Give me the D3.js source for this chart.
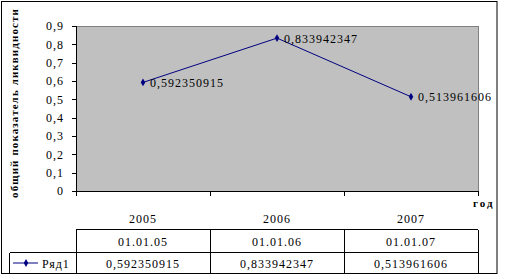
<!DOCTYPE html>
<html><head><meta charset="utf-8">
<script src="https://cdn.jsdelivr.net/npm/d3@7"></script>
<style>
html,body{margin:0;padding:0;background:#fff;}
svg text{font-family:"Liberation Serif","Times New Roman",serif;}
</style></head>
<body><svg id="c" width="505" height="279"></svg>
<script>
const categories = ["2005", "2006", "2007"];
const dates = ["01.01.05", "01.01.06", "01.01.07"];
const values = [0.592350915, 0.833942347, 0.513961606];
const labels = ["0,592350915", "0,833942347", "0,513961606"];
const yTicks = [0, 0.1, 0.2, 0.3, 0.4, 0.5, 0.6, 0.7, 0.8, 0.9];
const seriesName = "Ряд1";
const yTitle = "общий показатель ликвидности";
const xTitle = "год";

const svg = d3.select("#c");
const L = 76, R = 478, T = 26, B = 191;
const x = d3.scaleBand().domain(categories).range([L, R]);
const y = d3.scaleLinear().domain([0, 0.9]).range([B, T]);
const fmt = d => d === 0 ? "0" : d3.format(".1f")(d).replace(".", ",");

// outer frame
svg.append("rect").attr("x", 1.5).attr("y", 1.5).attr("width", 495.5).attr("height", 272)
  .attr("fill", "#fff").attr("stroke", "#000").attr("stroke-width", 1);

// plot area
svg.append("rect").attr("x", L).attr("y", T).attr("width", R - L).attr("height", B - T)
  .attr("fill", "#c0c0c0").attr("stroke", "#808080").attr("stroke-width", 1)
  .attr("shape-rendering", "crispEdges");

// y axis
const yAxis = svg.append("g").attr("transform", `translate(${L},0)`)
  .call(d3.axisLeft(y).tickValues(yTicks).tickFormat(fmt).tickSize(4).tickPadding(8));
yAxis.selectAll("path,line").attr("stroke", "#000").attr("shape-rendering", "crispEdges");
yAxis.selectAll("text").attr("font-size", 12).attr("letter-spacing", "1px")
  .style("font-family", "'Liberation Serif',serif").attr("fill", "#000");

// x axis with ticks at category boundaries
const xAxisG = svg.append("g").attr("transform", `translate(0,${B})`);
xAxisG.append("line").attr("x1", L).attr("x2", R).attr("y1", 0).attr("y2", 0)
  .attr("stroke", "#000").attr("shape-rendering", "crispEdges");
const bounds = categories.map(c => x(c)).concat([x(categories[categories.length - 1]) + x.bandwidth()]);
xAxisG.selectAll("line.tk").data(bounds).join("line").attr("class", "tk")
  .attr("x1", d => d).attr("x2", d => d).attr("y1", 0).attr("y2", 5)
  .attr("stroke", "#000").attr("shape-rendering", "crispEdges");
xAxisG.selectAll("text.cat").data(categories).join("text").attr("class", "cat")
  .attr("x", d => x(d) + x.bandwidth() / 2).attr("y", 32)
  .attr("text-anchor", "middle").attr("font-size", 12).attr("letter-spacing", "1px").text(d => d);

// line
const cx = d => x(d) + x.bandwidth() / 2;
const pts = categories.map((c, i) => [cx(c), y(values[i])]);
svg.append("path").attr("d", d3.line()(pts)).attr("fill", "none")
  .attr("stroke", "#000080").attr("stroke-width", 1);
const diamond = d3.symbol().type(d3.symbolDiamond).size(18);
svg.selectAll("path.mk").data(pts).join("path").attr("class", "mk")
  .attr("d", diamond).attr("transform", d => `translate(${d[0]},${d[1]})`).attr("fill", "#000080");
svg.selectAll("text.dl").data(pts).join("text").attr("class", "dl")
  .attr("x", d => d[0] + 7).attr("y", d => d[1] + 4.5)
  .attr("font-size", 12).attr("letter-spacing", "1px").text((d, i) => labels[i]);

// titles
svg.append("text").attr("transform", `translate(18,103) rotate(-90)`)
  .attr("text-anchor", "middle").attr("font-size", 11).attr("font-weight", "bold")
  .attr("letter-spacing", "1.1px").text(yTitle);
svg.append("text").attr("x", 473).attr("y", 207).attr("font-size", 11)
  .attr("font-weight", "bold").attr("letter-spacing", "2px").text(xTitle);

// data table
const t0 = 229.5, t1 = 252.5, t2 = 273.5, lx = 9.5;
const tbl = svg.append("g").attr("stroke", "#000").attr("shape-rendering", "crispEdges");
tbl.append("line").attr("x1", L).attr("x2", R).attr("y1", t0).attr("y2", t0);
tbl.append("line").attr("x1", lx).attr("x2", R).attr("y1", t1).attr("y2", t1);
tbl.append("line").attr("x1", lx).attr("x2", R).attr("y1", t2).attr("y2", t2);
tbl.selectAll("line.v").data(bounds).join("line").attr("class", "v")
  .attr("x1", d => d).attr("x2", d => d).attr("y1", t0).attr("y2", t2);
tbl.append("line").attr("x1", lx).attr("x2", lx).attr("y1", t1).attr("y2", t2);

svg.selectAll("text.dt").data(dates).join("text").attr("class", "dt")
  .attr("x", (d, i) => cx(categories[i])).attr("y", (t0 + t1) / 2 + 4.5)
  .attr("text-anchor", "middle").attr("font-size", 12).attr("letter-spacing", "1px").text(d => d);
svg.selectAll("text.tv").data(labels).join("text").attr("class", "tv")
  .attr("x", (d, i) => cx(categories[i])).attr("y", (t1 + t2) / 2 + 4.5)
  .attr("text-anchor", "middle").attr("font-size", 12).attr("letter-spacing", "1px").text(d => d);

// legend key
const ly = (t1 + t2) / 2;
svg.append("line").attr("x1", 13).attr("x2", 38).attr("y1", ly).attr("y2", ly)
  .attr("stroke", "#000080").attr("stroke-width", 1);
svg.append("path").attr("d", diamond).attr("transform", `translate(26,${ly})`).attr("fill", "#000080");
svg.append("text").attr("x", 42).attr("y", ly + 4.5).attr("font-size", 12)
  .attr("letter-spacing", "1px").text(seriesName);
</script></body></html>
